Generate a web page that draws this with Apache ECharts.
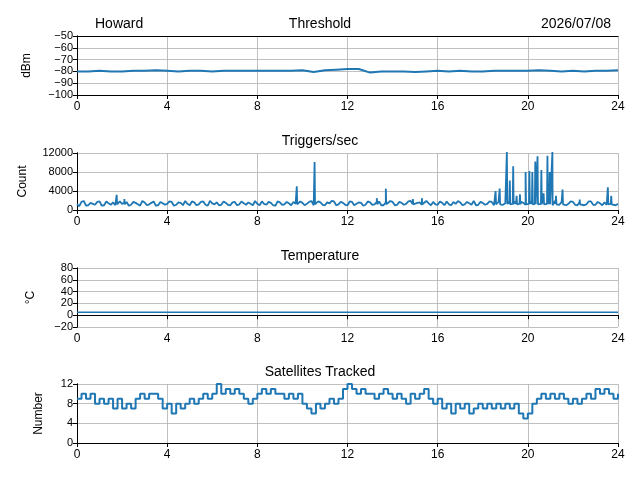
<!DOCTYPE html>
<html><head><meta charset="utf-8">
<script src="https://cdn.jsdelivr.net/npm/echarts@6/dist/echarts.min.js"></script>
<style>html,body{margin:0;padding:0;background:#fff}#c{width:640px;height:480px}</style>
</head><body><div id="c"></div>
<script>
// Threshold (dBm), every 0.5 h from 0 to 24
const thrStep = 0.5;
const thrVals = [-80,-80,-79.5,-80,-80,-79.5,-79.5,-79,-79.5,-80,-79.5,-79.5,-80,-79.5,-79.5,-79.5,-79.5,-79.5,-79.5,-79.5,-79,-80.5,-79,-78.5,-78,-78,-81,-80,-80,-80,-80.5,-80,-79.5,-80,-79.5,-80,-80,-79.5,-79.5,-79.5,-79.5,-79,-79.5,-80,-79.5,-80,-79.5,-79.5,-79];
// Triggers/sec baseline, every 0.2 h
const trigStep = 0.2;
const trigBase = [1200,1700,900,1500,1100,1800,1000,1400,1600,900,1300,1700,1100,1500,900,1600,1200,1800,1000,1400,
1300,1700,1100,1500,1900,1000,1600,1200,1800,900,1400,1600,1100,1500,1000,1700,1200,1400,1600,1000,
1300,1800,1100,1500,900,1600,1200,1400,1700,1000,1500,1300,1900,1100,1600,1000,1400,1800,1200,1500,
1000,1700,1300,1500,1100,1600,1200,1800,1000,1400,1700,1100,1500,1300,1900,1000,1600,1200,1400,1700,
1100,1500,1800,1000,1300,1600,1200,1400,1900,1100,1500,1300,1700,1000,1600,1400,1200,1800,1100,1500,
1300,1700,1000,1600,1200,1400,1900,1100,1500,1300,1700,1000,1600,1200,1800,1100,1400,1600,1000,1500,1300];
// Triggers/sec between baseline samples (at 0.1, 0.3, ... h)
const trigMid = [800,1900,1000,1300,1700,900,1800,1100,1000,1800,1500,900,1700,1200,1900,1000,1500,900,1700,1100,
1800,900,1600,1000,1300,1800,1000,1700,1100,1900,1200,1000,1800,1100,1600,1000,1800,1100,1300,1900,
1000,1300,1700,1000,1800,1100,1700,1000,1300,1800,1000,1700,1000,1800,1100,1600,1900,1000,1700,1100,
1800,1000,1600,900,1800,1100,1700,1000,1600,1900,1000,1700,1100,1800,1000,1500,1100,1900,1000,1200,
1800,1000,1200,1700,1900,1000,1700,1100,1000,1700,1100,1800,1000,1700,1100,1800,1600,1000,1700,1100,
1800,1000,1600,1100,1800,1000,1200,1700,1000,1800,1100,1700,1000,1800,1100,1700,1000,1100,1700,1000];
// Trigger spikes [hour, count]
const trigSpikes = [[1.76,3200],[2.1,2300],[9.75,5000],[10.54,10100],[13.3,2500],[13.7,4500],[14.9,2300],[15.3,2500],
[18.57,4000],[18.75,4500],[19.07,12200],[19.2,6200],[19.35,9200],[19.5,3000],[19.65,3300],[19.9,8000],[20.07,8200],
[20.2,8000],[20.33,10200],[20.43,11300],[20.6,8400],[20.7,3500],[20.87,11400],[20.97,8000],[21.09,12200],[21.25,3000],
[21.54,4300],[22.3,2200],[23.55,4800],[23.7,3000]];
// Temperature (°C), every 6 h
const tempStep = 6;
const tempVals = [5,5,5,5,5];
// Satellites tracked, every 0.2 h
const satStep = 0.2;
const satVals = [9,10,9,10,8, 9,8,9,7,9, 7,8,7,9,10, 9,10,10,9,7, 8,6,8,7,8, 9,8,9,10,9, 10,12,10,11,10, 11,10,9,8,9,
10,11,10,11,10, 10,9,10,9,10, 8,7,6,8,7, 8,9,8,9,11, 12,11,10,11,10, 10,9,10,11,10, 9,10,9,8,10, 9,10,11,9,8,
9,7,8,6,8, 7,8,6,7,8, 7,8,7,8,7, 8,7,8,6,5, 6,8,9,10,9, 10,9,10,9,8, 9,8,9,10,9, 11,10,11,10,9, 10];

const toPairs=(vals,step,off)=>vals.map((v,i)=>[+((off||0)+i*step).toFixed(3),v]);
const trig = toPairs(trigBase,trigStep).concat(toPairs(trigMid,trigStep,0.1));
trigSpikes.forEach(s=>{trig.push([s[0]-0.02,1300]);trig.push(s);trig.push([s[0]+0.02,1200]);});
trig.sort((a,b)=>a[0]-b[0]);

const F='Liberation Sans';
const C='#1f77b4';
const tops=[36,153,268,384], hs=[59,57,59,59];
const grids=tops.map((t,i)=>({left:77,right:22,top:t,height:hs[i]}));
const yCfg=[[-100,-50,10,'dBm'],[0,12000,4000,'Count'],[-20,80,20,'°C'],[0,12,4,'Number']];
const axLine={show:true,lineStyle:{color:'#000',width:1}};
const xAxis=grids.map((g,i)=>({type:'value',gridIndex:i,min:0,max:24,interval:4,axisLine:axLine,
 axisTick:{show:true,length:4,lineStyle:{color:'#000'}},axisLabel:{color:'#000',fontFamily:F,fontSize:12,margin:6},
 splitLine:{show:true,lineStyle:{color:'#b0b0b0',width:0.8}}}));
const xTop=grids.map((g,i)=>({type:'value',gridIndex:i,min:0,max:24,position:'top',axisLine:axLine,axisTick:{show:false},axisLabel:{show:false},splitLine:{show:false}}));
const yAxis=yCfg.map((c,i)=>({type:'value',gridIndex:i,min:c[0],max:c[1],interval:c[2],name:c[3],nameLocation:'middle',
 nameGap:c[3]==='Count'?48:c[3]==='dBm'?44:c[3]==='°C'?40:32,nameTextStyle:{color:'#000',fontFamily:F,fontSize:12},
 axisLine:axLine,axisTick:{show:true,length:4,lineStyle:{color:'#000'}},
 axisLabel:{color:'#000',fontFamily:F,fontSize:11,lineHeight:9,margin:4,hideOverlap:false,showMinLabel:true,showMaxLabel:true,
  formatter:v=>String(v).replace('-','\u2212')},
 splitLine:{show:true,lineStyle:{color:'#b0b0b0',width:0.8}}}));
const yRight=yCfg.map((c,i)=>({type:'value',gridIndex:i,min:c[0],max:c[1],position:'right',axisLine:axLine,axisTick:{show:false},axisLabel:{show:false},splitLine:{show:false}}));
const ts={color:'#000',fontFamily:F,fontSize:14,fontWeight:'normal'};
const chart=echarts.init(document.getElementById('c'));
chart.setOption({animation:false,
 title:[{text:'Howard',left:90,top:12,textStyle:ts},{text:'Threshold',left:'center',top:12,textStyle:ts},
 {text:'2026/07/08',right:24,top:12,textStyle:ts},{text:'Triggers/sec',left:'center',top:129,textStyle:ts},
 {text:'Temperature',left:'center',top:244,textStyle:ts},{text:'Satellites Tracked',left:'center',top:360,textStyle:ts}],
 grid:grids,
 xAxis:xAxis.concat(xTop),
 yAxis:yAxis.concat(yRight),
 series:[
  {type:'line',xAxisIndex:0,yAxisIndex:0,data:toPairs(thrVals,thrStep),showSymbol:false,lineStyle:{color:C,width:2}},
  {type:'line',xAxisIndex:1,yAxisIndex:1,data:trig,showSymbol:false,lineStyle:{color:C,width:1.8}},
  {type:'line',xAxisIndex:2,yAxisIndex:2,data:toPairs(tempVals,tempStep),showSymbol:false,lineStyle:{color:C,width:1.5}},
  {type:'line',step:'end',xAxisIndex:3,yAxisIndex:3,data:toPairs(satVals,satStep),showSymbol:false,lineStyle:{color:C,width:2}}
 ]});
</script></body></html>
